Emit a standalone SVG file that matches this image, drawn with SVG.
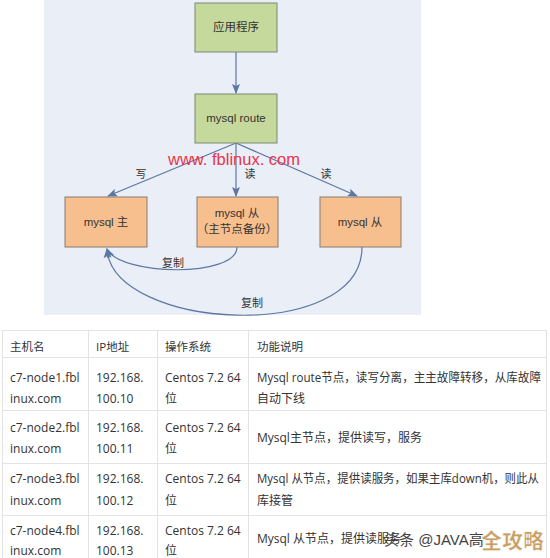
<svg xmlns="http://www.w3.org/2000/svg" width="550" height="558" viewBox="0 0 550 558">
<style>
.bg{fill:#e9eef7}
.g{fill:#c6d99c;stroke:#7d8873;stroke-width:1}
.o{fill:#f8bf8e;stroke:#8a7b6f;stroke-width:1}
.bt{font-family:"Liberation Sans","Noto Sans CJK SC",sans-serif;font-size:11.5px;fill:#333;text-anchor:middle}
.lb{font-family:"Liberation Sans","Noto Sans CJK SC",sans-serif;font-size:11px;fill:#333;text-anchor:middle}
.ln{fill:none;stroke:#5c77a3;stroke-width:1.2}
.tl{stroke:#e3e3e3;stroke-width:1;fill:none}
.tt{font-family:"Open Sans","Noto Sans CJK SC",sans-serif;font-size:12px;fill:#333}
.th{font-family:"Open Sans","Noto Sans CJK SC",sans-serif;font-size:11.5px;fill:#333}
</style>
<defs>
<marker id="ah" markerWidth="10" markerHeight="8" refX="9" refY="4" orient="auto" markerUnits="userSpaceOnUse">
<path d="M0,0 L10,4 L0,8 L2,4 z" fill="#5c77a3"/>
</marker>
</defs>
<rect width="550" height="558" fill="#ffffff"/>
<rect class="bg" x="44" y="0" width="377" height="315"/>

<g id="connectors">
<line class="ln" x1="236" y1="52" x2="236" y2="93" marker-end="url(#ah)"/>
<line class="ln" x1="236" y1="143" x2="108" y2="196" marker-end="url(#ah)"/>
<line class="ln" x1="236" y1="143" x2="236" y2="196" marker-end="url(#ah)"/>
<line class="ln" x1="236" y1="143" x2="357" y2="196" marker-end="url(#ah)"/>
<path class="ln" d="M237,247 C237,278 120,276 107,249" marker-end="url(#ah)"/>
<path class="ln" d="M362,247 C362,345 112,330 107,249" marker-end="url(#ah)"/>
<text class="lb" x="141" y="178">写</text>
<text class="lb" x="250" y="178">读</text>
<text class="lb" x="326" y="178">读</text>
<text class="lb" x="173" y="267">复制</text>
<text class="lb" x="252" y="307">复制</text>
</g>

<text x="234" y="165" font-family="Liberation Sans,Arial,sans-serif" font-size="16.5" fill="#e8354b" text-anchor="middle">www. fblinux. com</text>

<g id="app">
<rect class="g" x="195" y="3" width="82" height="49"/>
<text class="bt" x="236" y="31">应用程序</text>
</g>
<g id="route">
<rect class="g" x="195" y="94" width="82" height="49"/>
<text class="bt" x="236" y="122">mysql  route</text>
</g>
<g id="master">
<rect class="o" x="65" y="197" width="82" height="50"/>
<text class="bt" x="106" y="226">mysql  主</text>
</g>
<g id="slave1">
<rect class="o" x="197" y="197" width="81" height="50"/>
<text class="bt" x="237" y="217">mysql  从</text>
<text class="bt" x="237" y="233">（主节点备份）</text>
</g>
<g id="slave2">
<rect class="o" x="320" y="197" width="81" height="50"/>
<text class="bt" x="360" y="226">mysql  从</text>
</g>

<g id="table">
<rect class="tl" x="2.5" y="330.5" width="544" height="240"/>
<line class="tl" x1="2" y1="357.5" x2="547" y2="357.5"/>
<line class="tl" x1="2" y1="410.5" x2="547" y2="410.5"/>
<line class="tl" x1="2" y1="463.5" x2="547" y2="463.5"/>
<line class="tl" x1="2" y1="515.5" x2="547" y2="515.5"/>
<line class="tl" x1="88.5" y1="330" x2="88.5" y2="558"/>
<line class="tl" x1="157.5" y1="330" x2="157.5" y2="558"/>
<line class="tl" x1="248.5" y1="330" x2="248.5" y2="558"/>

<text class="th" x="10" y="351">主机名</text>
<text class="th" x="96" y="351">IP地址</text>
<text class="th" x="165" y="351">操作系统</text>
<text class="th" x="257" y="351">功能说明</text>

<text class="tt" x="10" y="382">c7-node1.fbl</text>
<text class="tt" x="10" y="403">inux.com</text>
<text class="tt" x="96" y="382">192.168.</text>
<text class="tt" x="96" y="403">100.10</text>
<text class="tt" x="165" y="382">Centos 7.2 64</text>
<text class="tt" x="165" y="403">位</text>
<text class="tt" x="257" y="382" textLength="284" lengthAdjust="spacingAndGlyphs">Mysql route节点，读写分离，主主故障转移，从库故障</text>
<text class="tt" x="257" y="403">自动下线</text>

<text class="tt" x="10" y="432">c7-node2.fbl</text>
<text class="tt" x="10" y="453">inux.com</text>
<text class="tt" x="96" y="432">192.168.</text>
<text class="tt" x="96" y="453">100.11</text>
<text class="tt" x="165" y="432">Centos 7.2 64</text>
<text class="tt" x="165" y="453">位</text>
<text class="tt" x="257" y="442">Mysql主节点，提供读写，服务</text>

<text class="tt" x="10" y="483">c7-node3.fbl</text>
<text class="tt" x="10" y="505">inux.com</text>
<text class="tt" x="96" y="483">192.168.</text>
<text class="tt" x="96" y="505">100.12</text>
<text class="tt" x="165" y="483">Centos 7.2 64</text>
<text class="tt" x="165" y="505">位</text>
<text class="tt" x="257" y="483" textLength="282" lengthAdjust="spacingAndGlyphs">Mysql 从节点，提供读服务，如果主库down机，则此从</text>
<text class="tt" x="257" y="505">库接管</text>

<text class="tt" x="10" y="535">c7-node4.fbl</text>
<text class="tt" x="10" y="555">inux.com</text>
<text class="tt" x="96" y="535">192.168.</text>
<text class="tt" x="96" y="555">100.13</text>
<text class="tt" x="165" y="535">Centos 7.2 64</text>
<text class="tt" x="165" y="555">位</text>
<text class="tt" x="257" y="543">Mysql 从节点，提供读服务</text>
</g>

<text x="384" y="545" font-family="Liberation Sans,'Noto Sans CJK SC',sans-serif" font-size="15" fill="#444">头条 @JAVA高</text>
<text x="481" y="548" font-family="'Noto Sans CJK SC',sans-serif" font-size="21" font-weight="900" fill="#c9a064" stroke="#ffffff" stroke-width="0.6">全攻略</text>
</svg>
